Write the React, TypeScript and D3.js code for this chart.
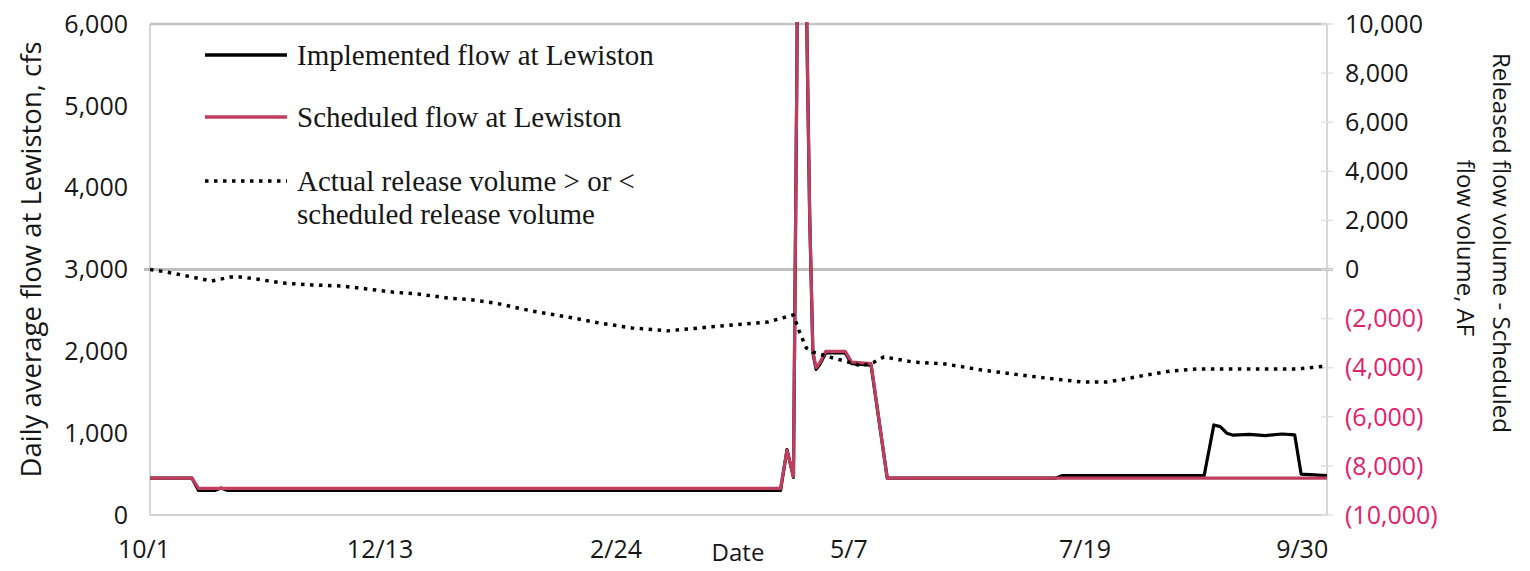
import React from 'react';
import * as d3 from 'd3';

// day index counted from 10/1
const tickDays = [0, 73, 146, 218, 291, 364];
const tickLabels = ['10/1', '12/13', '2/24', '5/7', '7/19', '9/30'];

const leftTicks = [0, 1000, 2000, 3000, 4000, 5000, 6000];
const rightTicks = [-10000, -8000, -6000, -4000, -2000, 0, 2000, 4000, 6000, 8000, 10000];

// scheduled flow at Lewiston, cfs
const scheduledDays = [0, 13, 15, 195, 197, 199, 200, 201, 202, 203, 204, 205, 206, 207, 209, 215, 217, 223, 228, 364];
const scheduledFlow = [450, 450, 325, 325, 790, 470, 5200, 11000, 9000, 6300, 3700, 2000, 1800, 1850, 2000, 2000, 1870, 1850, 450, 450];

// implemented flow at Lewiston, cfs
const implementedDays = [0, 13, 15, 20, 22, 24, 195, 197, 199, 200, 201, 202, 203, 204, 205, 206, 207, 209, 215, 217, 223, 228, 280, 282, 326, 329, 331, 333, 335, 340, 345, 350, 354, 356, 364];
const implementedFlow = [450, 450, 300, 300, 330, 300, 300, 800, 460, 5200, 11000, 9000, 6300, 3680, 1980, 1780, 1830, 1980, 1980, 1850, 1830, 450, 450, 480, 480, 1100, 1080, 1000, 975, 985, 970, 990, 980, 500, 480];

// actual release volume minus scheduled release volume, AF
const volumeDays = [0, 5, 13, 19, 25, 28, 33, 41, 50, 59, 67, 75, 83, 92, 100, 108, 118, 129, 139, 149, 160, 170, 180, 191, 199, 201, 203, 205, 210, 216, 220, 224, 227, 236, 246, 257, 267, 277, 288, 296, 300, 308, 316, 324, 339, 355, 364];
const volumeDiff = [0, -100, -305, -470, -305, -305, -390, -550, -630, -670, -790, -920, -1000, -1160, -1240, -1400, -1690, -1930, -2180, -2380, -2500, -2380, -2260, -2140, -1850, -2590, -3200, -3360, -3560, -3770, -3930, -3770, -3560, -3770, -3850, -4090, -4260, -4420, -4580, -4580, -4500, -4300, -4130, -4050, -4050, -4050, -3930];

const W = 1530, H = 571;
const left = 150, right = 1327, top = 24, bottom = 515;
const RED = '#bf3e5d';
const PINK = '#e3206b';
const INK = '#161616';
const SANS = '"Open Sans", sans-serif';
const SERIF = '"Liberation Serif", "Times New Roman", serif';

export default function App() {
  const x = d3.scaleLinear().domain([0, 364]).range([left, right]);
  const yL = d3.scaleLinear().domain([0, 6000]).range([bottom, top]);
  const yR = d3.scaleLinear().domain([-10000, 10000]).range([bottom, top]);
  const fmt = d3.format(',');

  const flowLine = d3.line<[number, number]>().x(d => x(d[0])).y(d => yL(d[1]));
  const volLine = d3.line<[number, number]>().x(d => x(d[0])).y(d => yR(d[1]));

  const sched = flowLine(scheduledDays.map((d, i) => [d, scheduledFlow[i]]) as [number, number][]) || '';
  const impl = flowLine(implementedDays.map((d, i) => [d, implementedFlow[i]]) as [number, number][]) || '';
  const vol = volLine(volumeDays.map((d, i) => [d, volumeDiff[i]]) as [number, number][]) || '';

  return (
    <svg width={W} height={H} style={{ position: 'absolute', left: 0, top: 0, background: '#fff' }}>
      <defs>
        <clipPath id="plot">
          <rect x={left} y={top - 2} width={right - left} height={bottom - top + 2} />
        </clipPath>
      </defs>

      {/* frame */}
      <line x1={left} x2={left} y1={top} y2={bottom} stroke="#d6d6d6" strokeWidth={2} />
      <line x1={right} x2={right} y1={top} y2={bottom} stroke="#d6d6d6" strokeWidth={2} />
      <line x1={left} x2={right} y1={top} y2={top} stroke="#c4c4c4" strokeWidth={2.5} />
      <line x1={left} x2={right} y1={bottom} y2={bottom} stroke="#cfcfcf" strokeWidth={2} />
      <line x1={left - 6} x2={right + 6} y1={yL(3000)} y2={yL(3000)} stroke="#bdbdbd" strokeWidth={3} />
      {rightTicks.map(v => (
        <line key={'rt' + v} x1={right - 6} x2={right + 6} y1={yR(v)} y2={yR(v)} stroke="#e0e0e0" strokeWidth={1.5} />
      ))}

      {/* series */}
      <g clipPath="url(#plot)" fill="none" strokeLinejoin="round">
        <path d={impl} stroke="#000" strokeWidth={3.2} />
        <path d={sched} stroke={RED} strokeWidth={3.2} />
        <path d={vol} stroke="#000" strokeWidth={3.5} strokeDasharray="3.5 5.5" />
      </g>

      {/* left axis */}
      {leftTicks.map(v => (
        <text key={'l' + v} x={128} y={yL(v)} dy="0.35em" textAnchor="end" fontFamily={SANS} fontSize={25} fill={INK}>
          {fmt(v)}
        </text>
      ))}
      <text transform={`translate(41,${(top + bottom) / 2 - 10}) rotate(-90)`} textAnchor="middle" fontFamily={SANS} fontSize={27.5} fill={INK}>
        Daily average flow at Lewiston, cfs
      </text>

      {/* right axis */}
      {rightTicks.map(v => (
        <text key={'r' + v} x={1345} y={yR(v)} dy="0.35em" textAnchor="start" fontFamily={SANS} fontSize={25} fill={v < 0 ? PINK : INK}>
          {v < 0 ? `(${fmt(-v)})` : fmt(v)}
        </text>
      ))}
      <text transform={`translate(1493,243) rotate(90)`} textAnchor="middle" fontFamily={SANS} fontSize={24} fill={INK}>
        Released flow volume - Scheduled
      </text>
      <text transform={`translate(1457,248) rotate(90)`} textAnchor="middle" fontFamily={SANS} fontSize={24} fill={INK}>
        flow volume, AF
      </text>

      {/* x axis */}
      {tickDays.map((d, i) => {
        const half = tickLabels[i].length * 7.2;
        const cx = Math.min(x(d) - 6, right - half + 4);
        return (
          <text key={'x' + d} x={cx} y={549} dy="0.35em" textAnchor="middle" fontFamily={SANS} fontSize={25} fill={INK}>
            {tickLabels[i]}
          </text>
        );
      })}
      <text x={738} y={553} dy="0.35em" textAnchor="middle" fontFamily={SANS} fontSize={24} fill={INK}>
        Date
      </text>

      {/* legend */}
      <line x1={205} x2={287} y1={55} y2={55} stroke="#000" strokeWidth={3.5} />
      <text x={297} y={55} dy="0.33em" fontFamily={SERIF} fontSize={29} fill={INK}>Implemented flow at Lewiston</text>
      <line x1={205} x2={287} y1={117} y2={117} stroke={RED} strokeWidth={3.5} />
      <text x={297} y={117} dy="0.33em" fontFamily={SERIF} fontSize={29} fill={INK}>Scheduled flow at Lewiston</text>
      <line x1={205} x2={287} y1={181} y2={181} stroke="#000" strokeWidth={3.5} strokeDasharray="3.5 5.5" />
      <text x={297} y={181} dy="0.33em" fontFamily={SERIF} fontSize={29} fill={INK}>Actual release volume &gt; or &lt;</text>
      <text x={297} y={214} dy="0.33em" fontFamily={SERIF} fontSize={29} fill={INK}>scheduled release volume</text>
    </svg>
  );
}
